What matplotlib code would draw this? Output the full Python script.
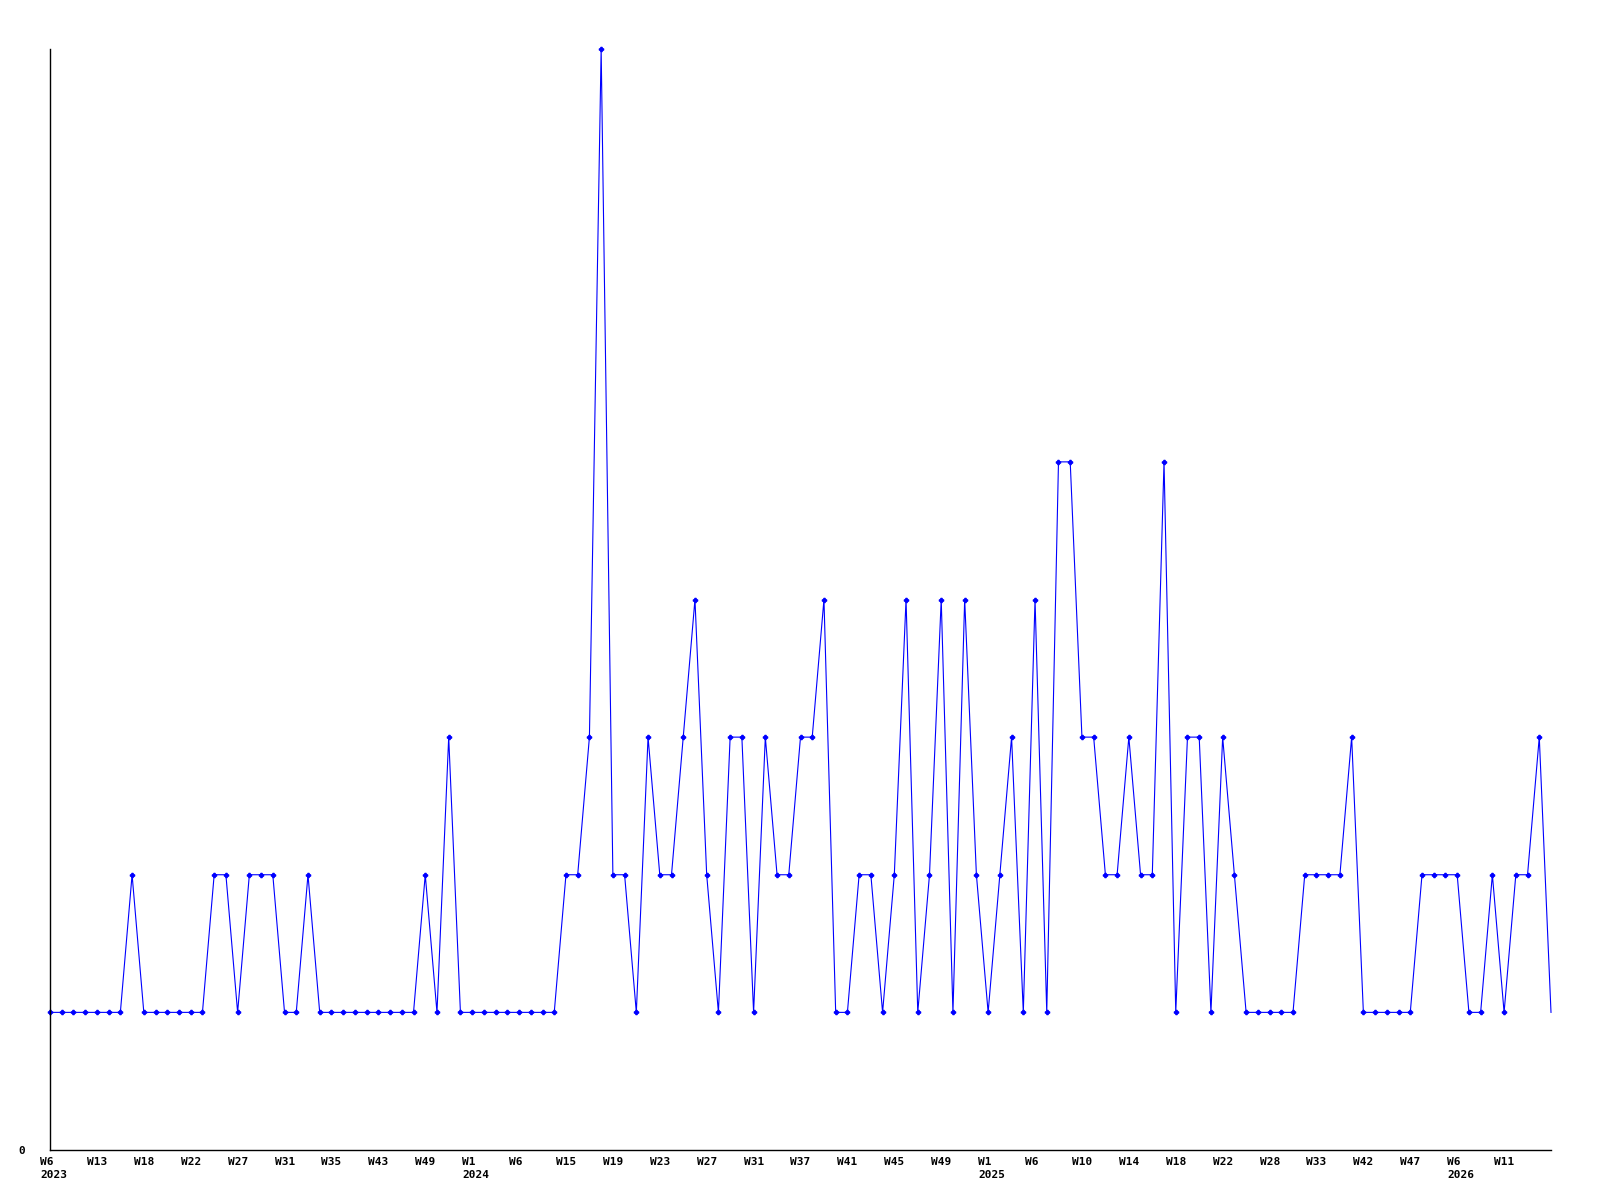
import matplotlib
matplotlib.use("Agg")
import matplotlib.pyplot as plt
import matplotlib.transforms as mtransforms

# === DATA ===
values = [
    1, 1, 1, 1, 1, 1, 1, 2, 1, 1, 1, 1, 1, 1, 2, 2, 1, 2, 2, 2,
    1, 1, 2, 1, 1, 1, 1, 1, 1, 1, 1, 1, 2, 1, 3, 1, 1, 1, 1, 1,
    1, 1, 1, 1, 2, 2, 3, 8, 2, 2, 1, 3, 2, 2, 3, 4, 2, 1, 3, 3,
    1, 3, 2, 2, 3, 3, 4, 1, 1, 2, 2, 1, 2, 4, 1, 2, 4, 1, 4, 2,
    1, 2, 3, 1, 4, 1, 5, 5, 3, 3, 2, 2, 3, 2, 2, 5, 1, 3, 3, 1,
    3, 2, 1, 1, 1, 1, 1, 2, 2, 2, 2, 3, 1, 1, 1, 1, 1, 2, 2, 2,
    2, 1, 1, 2, 1, 2, 2, 3, 1,
]

week_labels = [
    "W6", "W13", "W18", "W22", "W27", "W31", "W35", "W43", "W49", "W1",
    "W6", "W15", "W19", "W23", "W27", "W31", "W37", "W41", "W45", "W49",
    "W1", "W6", "W10", "W14", "W18", "W22", "W28", "W33", "W42", "W47",
    "W6", "W11",
]
year_labels = {0: "2023", 9: "2024", 20: "2025", 30: "2026"}
label_step = 4

# === PLOT ===
fig = plt.figure(figsize=(16, 12), dpi=100)
ax = fig.add_axes([50 / 1600, 50 / 1200, 1501 / 1600, 1101 / 1200])

x = list(range(len(values)))
ax.plot(x, values, color="#0000ff", linewidth=0.8, marker="P", markersize=3,
        markevery=list(range(len(values) - 1)), clip_on=False)

ax.set_xlim(0, len(values) - 1)
ax.set_ylim(0, 8)

for side in ["top", "right"]:
    ax.spines[side].set_visible(False)
for side in ["left", "bottom"]:
    ax.spines[side].set_linewidth(1.0)
    ax.spines[side].set_color("black")

font = dict(family="DejaVu Sans Mono", weight="bold", size=8)

ticks = [i * label_step for i in range(len(week_labels))]
texts = [w + ("\n" + year_labels[i] if i in year_labels else "") for i, w in enumerate(week_labels)]
ax.set_xticks(ticks)
ax.set_xticklabels(texts, ha="left", linespacing=1.35, **font)
ax.tick_params(axis="x", length=0, pad=5)
offset = mtransforms.ScaledTranslation(-10 / 100, 0, fig.dpi_scale_trans)
for lab in ax.get_xticklabels():
    lab.set_transform(lab.get_transform() + offset)

ax.set_yticks([0])
ax.set_yticklabels(["0"], **font)
ax.tick_params(axis="y", length=0, pad=18)

fig.savefig("out.png", dpi=100)
